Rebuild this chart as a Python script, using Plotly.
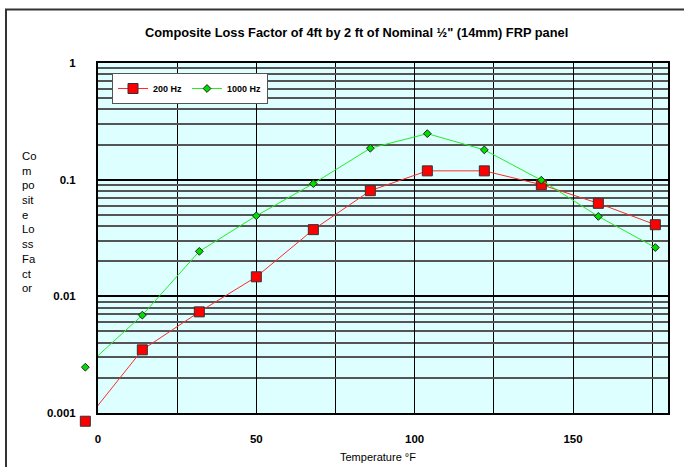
import plotly.graph_objects as go

temps_f = [-4, 14, 32, 50, 68, 86, 104, 122, 140, 158, 176]
loss_200hz = [0.00085, 0.00348, 0.00736, 0.0147, 0.0373, 0.0805, 0.119, 0.119, 0.0906, 0.0627, 0.0411]
loss_1000hz = [0.00247, 0.0069, 0.0243, 0.049, 0.0925, 0.186, 0.248, 0.180, 0.099, 0.0484, 0.0262]

x_tick_vals = [0, 50, 100, 150]
y_tick_vals = [0.001, 0.01, 0.1, 1]
y_tick_text = ["0.001", "0.01", "0.1", "1"]

FONT = "Liberation Sans, Arial, sans-serif"
W, H = 684, 467
# paper area (pixels)
L, R, T, B = 70, 16, 63, 27
PW, PH = W - L - R, H - T - B
# inner plot area (pixels)
PL, PR, PT, PB = 98, 668, 63, 413
X0, X1 = 0, 180
Y0, Y1 = -3, 0

dom_x = [(PL - L) / PW, 1]
dom_y = [(H - B - PB) / PH, 1]
ux = (PR - PL) / (X1 - X0)
uy = (PB - PT) / (Y1 - Y0)
x2_range = [X0 - (PL - L) / ux, X1]
y2_range = [Y0 - (H - B - PB) / uy, Y1]


def px(x):
    return (x - L) / PW


def py(y):
    return (H - B - y) / PH


fig = go.Figure()
series = [
    ("200 Hz", loss_200hz, "#ff2a2a",
     dict(symbol="square", size=10, color="#ff0000", line=dict(color="#333333", width=1))),
    ("1000 Hz", loss_1000hz, "#22ee22",
     dict(symbol="diamond", size=6, color="#00dd00", line=dict(color="#222222", width=1))),
]
for name, vals, lc, mk in series:
    fig.add_trace(go.Scatter(
        x=temps_f, y=vals, name=name, mode="lines+markers",
        line=dict(color=lc, width=1), marker=mk, cliponaxis=False,
        xaxis="x", yaxis="y",
    ))
    outside = [(t, v) for t, v in zip(temps_f, vals)
               if t < X0 or t > X1 or v < 10 ** Y0 or v > 10 ** Y1]
    if outside:
        fig.add_trace(go.Scatter(
            x=[o[0] for o in outside], y=[o[1] for o in outside],
            mode="markers", marker=mk, showlegend=False, cliponaxis=False,
            xaxis="x2", yaxis="y2", hoverinfo="skip",
        ))

fig.update_layout(
    width=W, height=H,
    margin=dict(l=L, r=R, t=T, b=B),
    paper_bgcolor="white",
    plot_bgcolor="rgba(0,0,0,0)",
    font=dict(family=FONT, size=11, color="black"),
    showlegend=True,
    legend=dict(
        x=px(112), y=py(73), xanchor="left", yanchor="top",
        orientation="h", bgcolor="white", bordercolor="#555555", borderwidth=1,
        font=dict(family=FONT, size=9, weight="bold"),
        itemwidth=30,
    ),
    xaxis=dict(
        domain=dom_x, range=[X0, X1], tickvals=x_tick_vals, ticks="", ticklabelstandoff=14,
        tickfont=dict(family=FONT, size=11.5, weight="bold"),
        showgrid=True, gridcolor="black", gridwidth=1,
        minor=dict(dtick=25, showgrid=True, gridcolor="black", gridwidth=1),
        showline=True, linecolor="black", linewidth=2, mirror=True,
        zeroline=False, anchor="y",
    ),
    yaxis=dict(
        domain=dom_y, type="log", range=[Y0, Y1], tickvals=y_tick_vals, ticktext=y_tick_text,
        ticks="", ticklabelstandoff=18,
        tickfont=dict(family=FONT, size=11.5, weight="bold"),
        showgrid=True, gridcolor="black", gridwidth=1.5,
        minor=dict(dtick="D1", showgrid=True, gridcolor="#555555", gridwidth=1.5),
        showline=True, linecolor="black", linewidth=2, mirror=True,
        zeroline=False, anchor="x",
    ),
    xaxis2=dict(domain=[0, 1], range=x2_range, visible=False, anchor="y2",
                showgrid=False, zeroline=False),
    yaxis2=dict(domain=[0, 1], type="log", range=y2_range, visible=False, anchor="x2",
                showgrid=False, zeroline=False),
    annotations=[
        dict(text="<b>Composite Loss Factor of 4ft by 2 ft of Nominal ½\" (14mm) FRP panel</b>",
             xref="paper", yref="paper", x=px(356), y=py(33), showarrow=False,
             font=dict(family=FONT, size=12.8), xanchor="center", yanchor="middle"),
        dict(text="Co<br>m<br>po<br>sit<br>e<br>Lo<br>ss<br>Fa<br>ct<br>or",
             xref="paper", yref="paper", x=px(20), y=py(222), showarrow=False,
             align="left", xanchor="left", yanchor="middle",
             font=dict(family=FONT, size=11.3)),
        dict(text="Temperature °F", xref="paper", yref="paper", x=px(378), y=py(457),
             showarrow=False, xanchor="center", yanchor="middle",
             font=dict(family=FONT, size=11)),
    ],
    shapes=[
        dict(type="rect", xref="x domain", yref="y domain",
             x0=0, y0=0, x1=1, y1=1, fillcolor="#ddffff",
             line=dict(width=0), layer="below"),
        dict(type="rect", xref="paper", yref="paper",
             x0=px(6), y0=py(480), x1=px(700), y1=py(9.5),
             line=dict(color="#333333", width=2), layer="below"),
    ],
)

fig.write_html(
    "out.html",
    config={"displayModeBar": False},
    post_script="document.body.style.margin='0';document.body.style.overflow='hidden';",
)
